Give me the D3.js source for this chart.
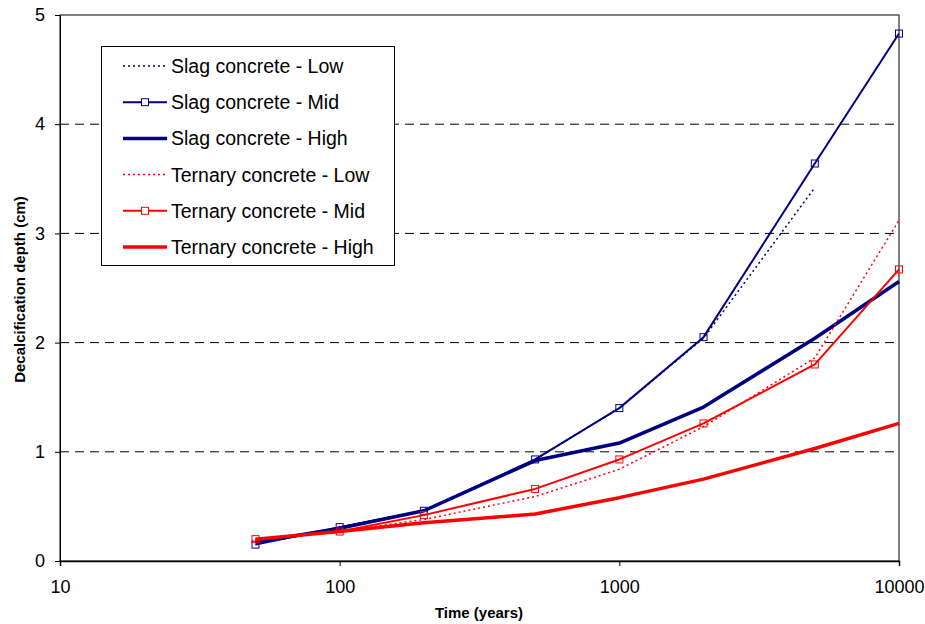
<!DOCTYPE html>
<html><head><meta charset="utf-8">
<script src="https://cdn.jsdelivr.net/npm/d3@7/dist/d3.min.js"></script>
<style>body{margin:0;background:#fff}svg{display:block}text{font-family:"Liberation Sans",Arial,sans-serif}</style>
</head><body><svg id="c" width="925" height="624"></svg>
<script>
const years = [50, 100, 200, 500, 1000, 2000, 5000, 10000];
const slagLow  = [0.15, 0.31, 0.46, 0.93, 1.40, 2.04, 3.42];
const slagMid  = [0.15, 0.31, 0.46, 0.93, 1.40, 2.05, 3.64, 4.83];
const slagHigh = [0.17, 0.30, 0.46, 0.92, 1.08, 1.41, 2.04, 2.56];
const terLow   = [0.20, 0.27, 0.38, 0.59, 0.84, 1.23, 1.86, 3.12];
const terMid   = [0.20, 0.27, 0.42, 0.66, 0.93, 1.26, 1.80, 2.67];
const terHigh  = [0.20, 0.27, 0.35, 0.43, 0.58, 0.75, 1.03, 1.26];
const seriesNames = ["Slag concrete - Low","Slag concrete - Mid","Slag concrete - High","Ternary concrete - Low","Ternary concrete - Mid","Ternary concrete - High"];
const xTicks = [10, 100, 1000, 10000];
const yTicks = [0, 1, 2, 3, 4, 5];

const NAVY = "#000080", RED = "#ff0000";
const series = [
  {name: seriesNames[0], vals: slagLow,  color: NAVY, w: 1.5, dash: "2,3", marker: false},
  {name: seriesNames[1], vals: slagMid,  color: NAVY, w: 2,   dash: null,  marker: true},
  {name: seriesNames[2], vals: slagHigh, color: NAVY, w: 3.5, dash: null,  marker: false},
  {name: seriesNames[3], vals: terLow,   color: RED,  w: 1.5, dash: "2,3", marker: false},
  {name: seriesNames[4], vals: terMid,   color: RED,  w: 2,   dash: null,  marker: true},
  {name: seriesNames[5], vals: terHigh,  color: RED,  w: 3.5, dash: null,  marker: false}
];

const svg = d3.select("#c");
const L = 60, R = 899, T = 15, B = 561;
const x = d3.scaleLog().domain([10, 10000]).range([L, R]);
const y = d3.scaleLinear().domain([0, 5]).range([B, T]);

// gridlines
svg.append("g").selectAll("line").data(yTicks.filter(d => d > 0 && d < 5)).join("line")
  .attr("x1", L).attr("x2", R).attr("y1", d => y(d)).attr("y2", d => y(d))
  .attr("stroke", "#000").attr("stroke-width", 1).attr("stroke-dasharray", "9,6");

// frame
svg.append("rect").attr("x", L).attr("y", T).attr("width", R - L).attr("height", B - T)
  .attr("fill", "none").attr("stroke", "#000").attr("stroke-width", 1);

// axes
const yAxis = d3.axisLeft(y).tickValues(yTicks).tickFormat(d3.format("d")).tickSize(5).tickPadding(10);
const gy = svg.append("g").attr("transform", `translate(${L},0)`).call(yAxis);
gy.select(".domain").attr("stroke", "#000");
gy.selectAll("text").attr("font-size", 18).attr("fill", "#000");

const xAxis = d3.axisBottom(x).tickValues(xTicks).tickFormat(d3.format("d")).tickSize(5).tickPadding(14);
const gx = svg.append("g").attr("transform", `translate(0,${B})`).call(xAxis);
gx.select(".domain").attr("stroke", "#000").attr("stroke-width", 1.5);
gx.selectAll("text").attr("font-size", 18).attr("fill", "#000");

// axis titles
svg.append("text").attr("x", 479).attr("y", 618).attr("text-anchor", "middle")
  .attr("font-size", 15).attr("font-weight", "bold").text("Time (years)");
svg.append("text").attr("transform", `translate(25,289.5) rotate(-90)`).attr("text-anchor", "middle")
  .attr("font-size", 15).attr("font-weight", "bold").text("Decalcification depth (cm)");

// lines
const line = d3.line().x((d, i) => x(years[i])).y(d => y(d));
const g = svg.append("g");
series.forEach(s => {
  g.append("path").attr("d", line(s.vals)).attr("fill", "none")
    .attr("stroke", s.color).attr("stroke-width", s.w)
    .attr("stroke-dasharray", s.dash).attr("stroke-linejoin", "round");
  if (s.marker) {
    g.append("g").selectAll("rect").data(s.vals).join("rect")
      .attr("x", (d, i) => x(years[i]) - 3.5).attr("y", d => y(d) - 3.5)
      .attr("width", 7).attr("height", 7).attr("fill", "none")
      .attr("stroke", s.color).attr("stroke-width", 1);
  }
});

// legend
const lg = svg.append("g");
lg.append("rect").attr("x", 101.5).attr("y", 46.5).attr("width", 293).attr("height", 219)
  .attr("fill", "#fff").attr("stroke", "#000").attr("stroke-width", 1);
const ly = d3.scalePoint().domain(seriesNames).range([66, 247]);
series.forEach(s => {
  const yy = ly(s.name);
  lg.append("line").attr("x1", 123).attr("x2", 167).attr("y1", yy).attr("y2", yy)
    .attr("stroke", s.color).attr("stroke-width", s.w).attr("stroke-dasharray", s.dash);
  if (s.marker) {
    lg.append("rect").attr("x", 145 - 3.5).attr("y", yy - 3.5).attr("width", 7).attr("height", 7)
      .attr("fill", "#fff").attr("stroke", s.color).attr("stroke-width", 1);
  }
  lg.append("text").attr("x", 171).attr("y", yy + 7).attr("font-size", 19.5).attr("fill", "#000").text(s.name);
});
</script></body></html>
